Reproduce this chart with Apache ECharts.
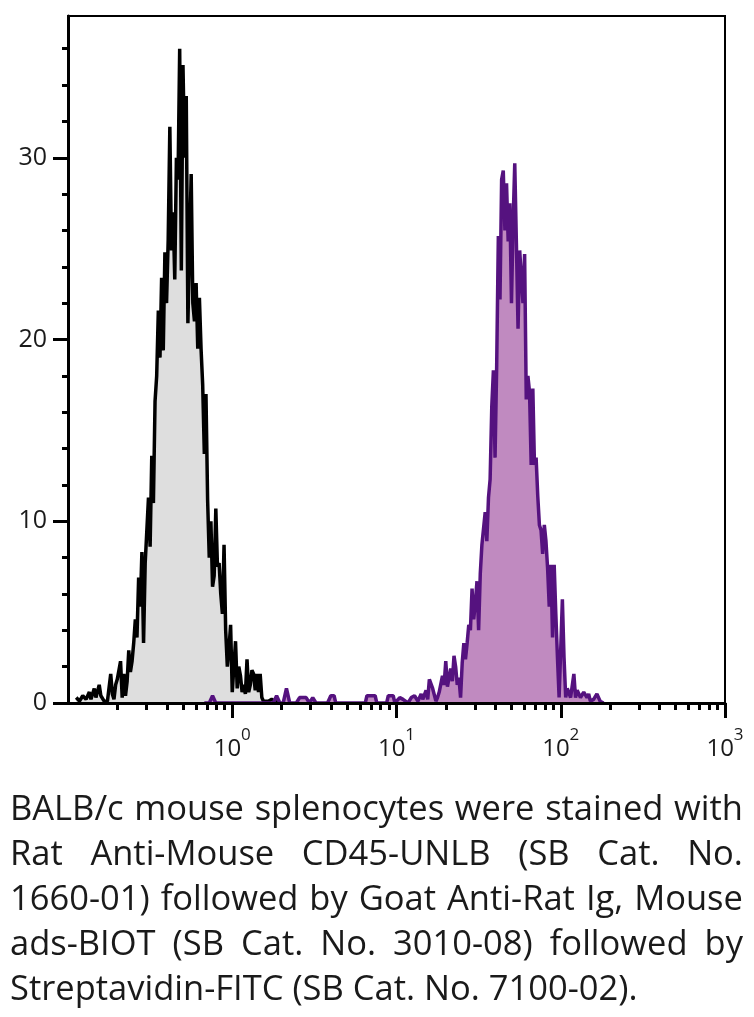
<!DOCTYPE html>
<html><head><meta charset="utf-8">
<script src="https://cdn.jsdelivr.net/npm/echarts@6/dist/echarts.min.js"></script>
<style>
html,body{margin:0;padding:0;background:#fff;}
#chart{position:absolute;left:0;top:0;width:754px;height:1017px;}
#caption{position:absolute;left:10px;top:784px;width:733px;font-family:'Open Sans';font-size:34.5px;line-height:45px;color:#1a1a1a;}
#caption .ln{display:flex;justify-content:space-between;white-space:nowrap;}
#caption .ln.last{justify-content:flex-start;}
#caption .ln.last span{margin-right:0.26em;}
</style></head><body>
<div id="chart"></div>
<div id="caption"></div>
<script>
// Control (unstained) histogram: fluorescence value, event count
const blackX = [0.1122,0.1175,0.1230,0.1288,0.1349,0.1380,0.1445,0.1479,0.1549,0.1585,0.1660,0.1738,0.1778,
0.1820,0.1862,0.1905,0.1950,0.1995,0.2042,0.2089,0.2138,0.2188,0.2239,
0.2291,0.2344,0.2399,0.2455,0.2512,0.2570,0.2630,0.2692,0.2754,0.2818,
0.2884,0.2951,0.3020,0.3090,0.3162,0.3236,0.3311,0.3388,0.3467,0.3548,
0.3631,0.3715,0.3802,0.3890,0.3981,0.4074,0.4169,0.4266,0.4365,0.4467,
0.4571,0.4677,0.4786,0.4898,0.5012,0.5129,0.5248,0.5370,0.5495,0.5623,
0.5754,0.5888,0.6026,0.6166,0.6310,0.6457,0.6607,0.6761,0.6918,0.7079,
0.7244,0.7413,0.7586,0.7762,0.7943,0.8128,0.8318,0.8511,0.8710,0.8913,
0.9120,0.9333,0.9550,0.9772,
1.000,1.023,1.047,1.072,1.096,1.122,1.148,1.175,1.202,1.230,
1.259,1.288,1.318,1.349,1.380,1.413,1.445,1.479,1.514,1.549,1.585,
1.660,1.738,1.820,1.905];
const blackCount = [0.3,0.1,0.4,0.2,0.6,0.2,0.8,0.3,1.0,0.4,0.1,0.1,0.2,
1.6,0.5,0.2,1.0,1.3,1.8,2.3,0.3,1.6,0.4,
1.2,2.9,1.7,2.3,3.3,4.6,3.6,6.9,5.3,8.3,
3.3,7.7,9.5,11.3,8.6,13.6,11.0,16.6,18.0,21.6,
19.0,23.4,19.4,24.8,22.0,25.5,31.7,24.9,27.0,23.3,
30.0,28.8,36.0,23.8,35.1,30.0,33.4,20.9,25.0,29.1,
22.0,21.0,23.1,19.5,22.3,19.5,17.5,13.7,17.0,11.2,
8.0,10.0,6.4,7.0,10.7,7.5,7.7,6.0,4.9,8.7,
4.0,2.0,3.0,4.3,
0.6,2.0,3.4,0.8,2.0,1.5,0.6,1.0,0.5,2.4,
0.6,1.0,1.8,1.6,0.7,1.6,0.6,1.6,0.3,0.1,0.2,
0.1,0.2,0.1,0.0];

// Stained (CD45) histogram: fluorescence value, event count
const purpleX = [0.6761,0.7244,0.7586,0.7943,1.778,1.862,1.950,2.042,2.138,2.239,
2.455,2.570,2.692,2.818,2.951,3.090,3.236,3.802,3.981,4.169,4.266,
6.457,6.607,6.918,7.413,7.586,8.710,8.913,9.550,9.772,
10.0,10.47,10.96,11.75,12.30,12.88,13.49,14.13,14.45,15.14,15.49,15.85,16.60,17.38,17.78,18.20,
19.05,19.50,19.95,20.42,20.89,21.38,21.88,22.39,22.91,23.44,23.99,24.55,
25.12,25.70,26.30,26.92,27.54,28.18,28.84,29.51,30.20,30.90,31.62,32.36,33.11,33.88,34.67,35.48,
36.31,37.15,38.02,38.90,39.81,40.74,41.69,42.66,43.65,44.67,45.71,46.77,47.86,48.98,
50.12,51.29,52.48,53.70,54.95,56.23,57.54,58.88,60.26,61.66,63.10,64.57,66.07,67.61,69.18,
70.79,72.44,74.13,75.86,77.62,79.43,81.28,83.18,85.11,87.10,89.13,91.20,93.33,95.50,97.72,
100.0,102.3,104.7,107.2,109.6,112.2,114.8,120.2,123.0,125.9,131.8,138.0,144.5,147.9,151.4,
158.5,166.0,173.8,182.0];
const purpleCount = [0,0,0.4,0,0,0.4,0,0,0.8,0,
0,0.3,0.3,0.3,0,0.3,0,0,0.4,0.4,0,
0,0.4,0.4,0.4,0,0,0.4,0.4,0,
0,0.3,0.2,0,0.3,0.4,0.1,0.5,0.2,0.7,0.2,1.3,0.8,0.1,0.3,0.6,
1.5,1.0,2.3,0.9,0.9,1.9,1.2,2.6,2.0,1.0,1.4,0.3,
2.2,3.3,2.4,3.3,4.3,4.0,6.3,4.6,5.5,6.7,4.0,7.1,8.7,8.7,10.5,8.9,
11.3,12.3,16.3,18.3,13.5,18.6,25.7,22.2,28.8,29.3,26.0,28.6,25.4,27.5,
22.0,26.5,29.7,25.3,20.6,24.9,25.0,22.0,24.7,16.7,18.0,17.1,13.1,17.3,13.1,
13.5,11.4,9.8,9.5,8.2,9.8,8.9,7.4,5.3,7.6,3.6,7.6,4.9,2.5,0.3,
3.0,5.7,2.5,0.3,0.8,0.8,0.3,1.6,0.3,0.7,0.3,0.6,0.3,0.5,0.1,
0.2,0.5,0.1,0];

const xMajorTicks = [1, 10, 100, 1000];
const xMinorTicks = [0.2,0.3,0.4,0.5,0.6,0.7,0.8,0.9,2,3,4,5,6,7,8,9,20,30,40,50,60,70,80,90,200,300,400,500,600,700,800,900];
const yMajorTicks = [0, 10, 20, 30];
const yMinorTicks = [2,4,6,8,12,14,16,18,22,24,26,28,32,34,36];

const captionLines = [
  'BALB/c mouse splenocytes were stained with',
  'Rat Anti-Mouse CD45-UNLB (SB Cat. No.',
  '1660-01) followed by Goat Anti-Rat Ig, Mouse',
  'ads-BIOT (SB Cat. No. 3010-08) followed by',
  'Streptavidin-FITC (SB Cat. No. 7100-02).'
];

const cap = document.getElementById('caption');
captionLines.forEach((line, i) => {
  const d = document.createElement('div');
  d.className = 'ln' + (i === captionLines.length - 1 ? ' last' : '');
  line.split(' ').forEach(w => { const s = document.createElement('span'); s.textContent = w; d.appendChild(s); });
  cap.appendChild(d);
});

const FONT = 'Open Sans';
const INK = '#1a1a1a';
const chart = echarts.init(document.getElementById('chart'), null, {renderer: 'canvas'});
chart.setOption({
  animation: false,
  grid: {left: 68, top: 16, width: 657, height: 687, show: true, borderColor: '#000', borderWidth: 2, backgroundColor: 'transparent'},
  xAxis: [
    {type: 'log', logBase: 10, min: 0.1, max: 1000, position: 'bottom', z: 3,
     axisLine: {show: true, onZero: false, lineStyle: {color: '#000', width: 3}},
     axisTick: {show: true, customValues: xMajorTicks, length: 15, lineStyle: {color: '#000', width: 3}},
     minorTick: {show: false},
     axisLabel: {show: true, customValues: xMajorTicks, margin: 24,
       formatter: v => '{b|10}{s|' + Math.round(Math.log10(v)) + '}',
       rich: {
         b: {fontFamily: FONT, fontSize: 24, color: INK, lineHeight: 34, verticalAlign: 'bottom'},
         s: {fontFamily: FONT, fontSize: 17, color: INK, lineHeight: 18, verticalAlign: 'top'}
       }},
     splitLine: {show: false}},
    {type: 'log', logBase: 10, min: 0.1, max: 1000, position: 'bottom', z: 3,
     axisLine: {show: false, onZero: false},
     axisTick: {show: true, customValues: xMinorTicks, length: 7, lineStyle: {color: '#000', width: 3}},
     axisLabel: {show: false},
     splitLine: {show: false}}
  ],
  yAxis: [
    {type: 'value', min: 0, max: 37.8, position: 'left', z: 3,
     axisLine: {show: true, onZero: false, lineStyle: {color: '#000', width: 3}},
     axisTick: {show: true, customValues: yMajorTicks, length: 15, lineStyle: {color: '#000', width: 3}},
     axisLabel: {show: true, customValues: yMajorTicks, margin: 21, fontFamily: FONT, fontSize: 25, color: INK},
     splitLine: {show: false}},
    {type: 'value', min: 0, max: 37.8, position: 'left', z: 3,
     axisLine: {show: false, onZero: false},
     axisTick: {show: true, customValues: yMinorTicks, length: 6, lineStyle: {color: '#000', width: 3}},
     axisLabel: {show: false},
     splitLine: {show: false}}
  ],
  series: [
    {type: 'line', name: 'Control', xAxisIndex: 0, yAxisIndex: 0,
     data: blackX.map((x, i) => [x, blackCount[i]]),
     showSymbol: false, symbol: 'none',
     lineStyle: {color: '#000', width: 3.5},
     areaStyle: {color: '#dedede', opacity: 1}, z: 2},
    {type: 'line', name: 'CD45', xAxisIndex: 0, yAxisIndex: 0,
     data: purpleX.map((x, i) => [x, purpleCount[i]]),
     showSymbol: false, symbol: 'none',
     lineStyle: {color: '#55127f', width: 3.5},
     areaStyle: {color: '#c08ac0', opacity: 1}, z: 2}
  ]
});
</script>
</body></html>
